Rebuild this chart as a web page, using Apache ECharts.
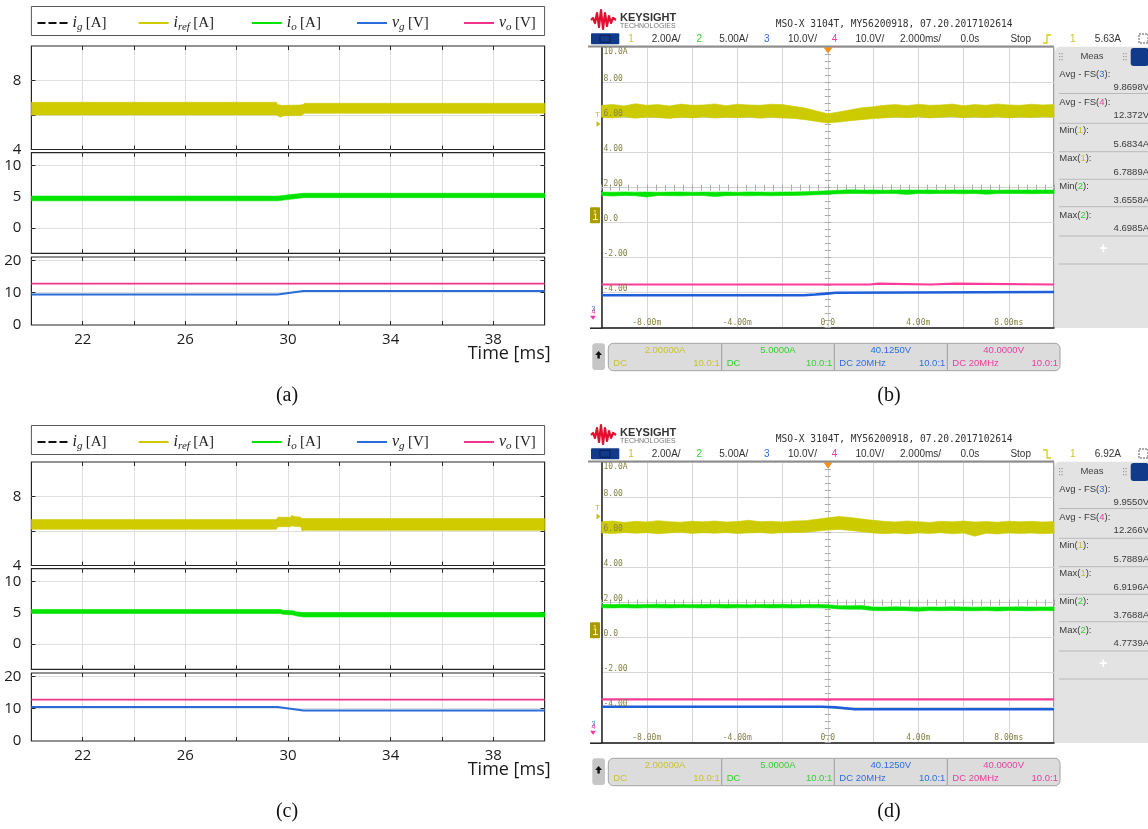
<!DOCTYPE html>
<html>
<head>
<meta charset="utf-8">
<script src="https://cdn.jsdelivr.net/npm/echarts@6.0.0/dist/echarts.min.js"></script>
<style>
html, body { margin: 0; padding: 0; background: #ffffff; }
#chart { width: 1148px; height: 829px; }
</style>
</head>
<body>
<div id="chart"></div>
<script>
// ===================== Simulation panels (a), (c) — time in ms =====================
const simTimeTicks  = [22, 24, 26, 28, 30, 32, 34, 36, 38];
const simTimeLabels = [22, 26, 30, 34, 38];
const irefTicks = [6, 8];      const irefLabels = [4, 8];
const ioTicks   = [0, 5, 10];  const ioLabels   = [0, 5, 10];
const voltTicks = [10, 20];    const voltLabels = [0, 10, 20];

// (a) step up of the input voltage
const aIrefT  = [20, 29.55, 29.6, 29.7, 29.75, 29.85, 30.5, 30.6, 30.65, 40];
const aIrefHi = [6.74, 6.74, 6.60, 6.58, 6.55, 6.56, 6.58, 6.62, 6.68, 6.68];
const aIrefLo = [6.00, 6.00, 5.95, 5.87, 5.92, 5.96, 5.97, 6.05, 6.10, 6.10];
const aIoT    = [20, 29.6, 29.9, 30.0, 30.5, 30.6, 40];
const aIoHi   = [5.10, 5.10, 5.25, 5.30, 5.50, 5.55, 5.55];
const aIoLo   = [4.35, 4.35, 4.50, 4.55, 4.80, 4.85, 4.85];
const aVgT    = [20, 29.6, 30.6, 40];
const aVg     = [9.45, 9.45, 10.5, 10.5];
const aVoT    = [20, 40];
const aVo     = [12.8, 12.8];

// (c) step down of the input voltage
const cIrefT  = [20, 29.55, 29.6, 30.1, 30.15, 30.25, 30.5, 30.55, 30.65, 40];
const cIrefHi = [6.66, 6.66, 6.80, 6.80, 6.91, 6.84, 6.80, 6.72, 6.72, 6.72];
const cIrefLo = [6.10, 6.10, 6.25, 6.25, 6.30, 6.26, 6.25, 6.00, 6.04, 6.04];
const cIoT    = [20, 29.7, 29.8, 30.2, 30.3, 30.6, 40];
const cIoHi   = [5.52, 5.52, 5.40, 5.30, 5.15, 5.03, 5.03];
const cIoLo   = [4.87, 4.87, 4.75, 4.65, 4.50, 4.32, 4.32];
const cVgT    = [20, 29.6, 30.6, 40];
const cVg     = [10.5, 10.5, 9.45, 9.45];
const cVoT    = [20, 40];
const cVo     = [12.8, 12.8];

// ===================== Oscilloscope panels (b), (d) — time in ms =====================
const scopeT = [-10, -9.5, -9, -8.5, -8, -7.5, -7, -6.5, -6, -5.5, -5, -4.5, -4, -3.5, -3, -2.5, -2, -1.5, -1, -0.5,
                0, 0.5, 1, 1.5, 2, 2.5, 3, 3.5, 4, 4.5, 5, 5.5, 6, 6.5, 7, 7.5, 8, 8.5, 9, 9.5, 10];
const scopeTimeLabels = [-8, -4, 0, 4, 8];
const chanScale  = ['2.00A/', '5.00A/', '10.0V/', '10.0V/'];
const chanPerDiv = [2, 5, 10, 10];
const chanOffset = [2, 5, 40.125, 40];
const chanOffsetText = ['2.00000A', '5.0000A', '40.1250V', '40.0000V'];
const chanCoupling = ['DC', 'DC', 'DC 20MHz', 'DC 20MHz'];
const chanProbe = ['10.0:1', '10.0:1', '10.0:1', '10.0:1'];

// (b) channel 1 (A)
const bCh1Hi = [6.70, 6.75, 6.66, 6.7889, 6.70, 6.74, 6.66, 6.77, 6.70, 6.72, 6.78, 6.68, 6.76, 6.72, 6.70, 6.76, 6.74, 6.64, 6.54, 6.38,
                6.22, 6.32, 6.44, 6.56, 6.62, 6.70, 6.74, 6.68, 6.76, 6.70, 6.72, 6.77, 6.68, 6.74, 6.70, 6.78, 6.72, 6.70, 6.76, 6.72, 6.75];
const bCh1Lo = [6.02, 5.98, 6.04, 5.96, 6.03, 6.00, 5.95, 6.02, 5.98, 6.04, 5.97, 6.02, 5.99, 6.03, 5.96, 6.01, 5.97, 5.95, 5.88, 5.78,
                5.6834, 5.74, 5.82, 5.88, 5.94, 5.98, 6.03, 5.99, 6.04, 5.98, 6.02, 6.05, 5.99, 6.03, 6.00, 6.04, 5.98, 6.03, 6.00, 6.04, 6.02];
// (b) channel 2 (A)
const bCh2Hi = [4.36, 4.34, 4.38, 4.35, 4.37, 4.33, 4.36, 4.38, 4.34, 4.36, 4.35, 4.37, 4.34, 4.38, 4.36, 4.35, 4.37, 4.38, 4.42, 4.48,
                4.55, 4.62, 4.6985, 4.64, 4.66, 4.63, 4.65, 4.67, 4.64, 4.66, 4.63, 4.65, 4.66, 4.64, 4.65, 4.63, 4.66, 4.64, 4.65, 4.66, 4.64];
const bCh2Lo = [3.86, 3.80, 3.88, 3.84, 3.6558, 3.87, 3.85, 3.82, 3.88, 3.86, 3.72, 3.85, 3.87, 3.83, 3.86, 3.84, 3.87, 3.88, 3.92, 3.98,
                4.05, 4.12, 4.15, 4.16, 4.12, 4.17, 4.14, 4.02, 4.16, 4.13, 4.17, 4.15, 4.12, 4.16, 4.05, 4.14, 4.17, 4.15, 4.13, 4.16, 4.14];
// (b) channels 3 and 4 (V)
const bCh3T = [-10, -1.05, -1.0, -0.55, -0.5, -0.05, 0, 0.35, 0.4, 10];
const bCh3  = [9.41, 9.41, 9.6, 9.6, 9.85, 9.85, 10.1, 10.1, 10.33, 10.33];
const bCh4T = [-10, 1.85, 1.9, 2.25, 2.3, 4.55, 4.6, 5.6, 5.65, 10];
const bCh4  = [12.34, 12.34, 12.6, 12.6, 12.34, 12.34, 12.6, 12.6, 12.34, 12.34];
const bAvg  = ['9.8698V', '12.372V'];
const bTrig = 5.63;

// (d) channel 1 (A)
const dCh1Hi = [6.62, 6.66, 6.58, 6.64, 6.60, 6.68, 6.62, 6.59, 6.65, 6.61, 6.66, 6.60, 6.63, 6.70, 6.62, 6.64, 6.60, 6.66, 6.68, 6.76,
                6.84, 6.9196, 6.86, 6.78, 6.70, 6.64, 6.60, 6.66, 6.62, 6.58, 6.64, 6.61, 6.66, 6.60, 6.63, 6.59, 6.65, 6.61, 6.64, 6.60, 6.63];
const dCh1Lo = [5.98, 5.94, 6.00, 5.96, 5.99, 5.93, 5.98, 6.01, 5.95, 5.99, 5.96, 6.00, 5.94, 5.98, 6.00, 5.95, 5.99, 6.00, 6.02, 6.08,
                6.14, 6.18, 6.12, 6.05, 5.98, 5.93, 5.97, 5.92, 5.98, 5.95, 5.99, 5.93, 5.97, 5.7889, 5.96, 5.92, 5.98, 5.94, 5.97, 5.93, 5.96];
// (d) channel 2 (A)
const dCh2Hi = [4.74, 4.72, 4.75, 4.71, 4.73, 4.7739, 4.72, 4.74, 4.71, 4.73, 4.75, 4.72, 4.74, 4.70, 4.73, 4.72, 4.75, 4.71, 4.73, 4.72,
                4.70, 4.56, 4.55, 4.57, 4.38, 4.36, 4.39, 4.37, 4.35, 4.38, 4.36, 4.39, 4.37, 4.35, 4.38, 4.36, 4.37, 4.39, 4.36, 4.38, 4.37];
const dCh2Lo = [4.26, 4.24, 4.28, 4.22, 4.27, 4.25, 4.23, 4.28, 4.26, 4.24, 4.27, 4.22, 4.26, 4.25, 4.28, 4.24, 4.26, 4.23, 4.27, 4.25,
                4.22, 4.08, 4.06, 4.05, 3.86, 3.84, 3.88, 3.85, 3.7688, 3.86, 3.84, 3.87, 3.85, 3.83, 3.86, 3.80, 3.87, 3.85, 3.84, 3.86, 3.85];
// (d) channels 3 and 4 (V)
const dCh3T = [-10, -0.25, -0.2, 0.35, 0.4, 1.2, 1.22, 1.24, 2.6, 2.62, 2.64, 3.7, 3.72, 3.74, 6.8, 6.82, 6.84, 10];
const dCh3  = [10.41, 10.41, 10.22, 10.22, 9.66, 9.66, 9.42, 9.66, 9.66, 9.42, 9.66, 9.66, 9.44, 9.66, 9.66, 9.45, 9.66, 9.66];
const dCh4T = [-10, 10];
const dCh4  = [12.35, 12.35];
const dAvg  = ['9.9550V', '12.266V'];
const dTrig = 6.92;

// ===================== styling =====================
const SIM_Y = '#d0ca00', SIM_G = '#00e400', SIM_B = '#2a6cd8', SIM_P = '#f0348c';
const SC_Y = '#cccb00', SC_G = '#00e400', SC_B = '#1d5fd8', SC_P = '#ff3a98';
const TX_Y = '#c9c230', TX_G = '#35d035', TX_B = '#2f6ee0', TX_P = '#ea3ea0';
const SIM_BORDER = '#262626', SIM_GRIDLINE = '#dfdfdf';
const SCOPE_GRIDLINE = '#d6d6d6', SCOPE_LABEL = '#858242';
const SANS = 'Open Sans', SERIF = 'Liberation Serif', SCOPE_FONT = 'Liberation Sans', MONO = 'DejaVu Sans Mono';

const grids = [], xAxis = [], yAxis = [], series = [], legend = [], graphic = [];

function range(a, b, step) { const out = []; for (let v = a; v <= b + 1e-9; v += step) out.push(+v.toFixed(4)); return out; }

// ripple envelope: filled polygon between the lower and upper edge, placed through the axes' scales
function addBand(name, xi, yi, t, lo, hi, color) {
  series.push({ type: 'custom', name, xAxisIndex: xi, yAxisIndex: yi, silent: true, z: 3, clip: true,
    data: t.map((x, i) => [x, lo[i], hi[i]]),
    encode: { x: 0, y: [1, 2] },
    itemStyle: { color },
    renderItem: (params, api) => {
      if (params.dataIndex !== 0) return null;
      const upper = t.map((x, i) => api.coord([x, hi[i]]));
      const lower = t.map((x, i) => api.coord([x, lo[i]])).reverse();
      return { type: 'polygon', shape: { points: upper.concat(lower) }, style: { fill: color, stroke: color, lineWidth: 0.6 } };
    } });
}
function addTrace(name, xi, yi, t, v, color, width) {
  series.push({ type: 'line', name, xAxisIndex: xi, yAxisIndex: yi, symbol: 'none',
    data: t.map((x, i) => [x, v[i]]), lineStyle: { color, width }, itemStyle: { color }, silent: true, z: 4 });
}
function text(x, y, str, o) {
  graphic.push({ type: 'text', x, y, z: 50, silent: true, style: Object.assign({ text: str, fontSize: 10, fontFamily: SCOPE_FONT,
    fill: '#333', align: 'left', verticalAlign: 'middle', textAlign: 'left', textVerticalAlign: 'middle' }, o || {}) });
}
function rect(x, y, w, h, st, r) { graphic.push({ type: 'rect', z: 49, silent: true, shape: { x, y, width: w, height: h, r: r || 0 }, style: st }); }
function line(x1, y1, x2, y2, stroke, w) { graphic.push({ type: 'line', z: 51, silent: true, shape: { x1, y1, x2, y2 }, style: { stroke, lineWidth: w || 1 } }); }

// ---------- simulation panel ----------
function simAxes(gi, yMin, yMax, yTicks, yLabels, withTime) {
  const tickStyle = { color: SIM_BORDER, width: 1 };
  const xi = xAxis.push({ gridIndex: gi, type: 'value', min: 20, max: 40, position: 'bottom',
    axisLine: { show: false, onZero: false },
    axisTick: { show: true, inside: true, length: 4, customValues: simTimeTicks, lineStyle: tickStyle },
    splitLine: { show: true, lineStyle: { color: SIM_GRIDLINE, width: 1 } },
    axisLabel: withTime ? { show: true, customValues: simTimeLabels, margin: 7, fontSize: 15, fontFamily: SANS, color: '#1a1a1a' } : { show: false },
    name: withTime ? 'Time [ms]' : '', nameLocation: 'end', nameGap: 6, nameMoveOverlap: false,
    nameTextStyle: { fontSize: 18, fontFamily: SANS, color: '#1a1a1a', align: 'right', verticalAlign: 'top', padding: [20, 0, 0, 0] }
  }) - 1;
  xAxis.push({ gridIndex: gi, type: 'value', min: 20, max: 40, position: 'top', axisLine: { show: false, onZero: false },
    axisTick: { show: true, inside: true, length: 4, customValues: simTimeTicks, lineStyle: tickStyle },
    splitLine: { show: false }, axisLabel: { show: false } });
  const yi = yAxis.push({ gridIndex: gi, type: 'value', min: yMin, max: yMax, position: 'left', axisLine: { show: false, onZero: false },
    axisTick: { show: true, inside: true, length: 4, customValues: yTicks, lineStyle: tickStyle },
    splitLine: { show: true, lineStyle: { color: SIM_GRIDLINE, width: 1 } },
    axisLabel: { show: true, customValues: yLabels, margin: 10, fontSize: 15, fontFamily: SANS, color: '#1a1a1a' } }) - 1;
  yAxis.push({ gridIndex: gi, type: 'value', min: yMin, max: yMax, position: 'right', axisLine: { show: false, onZero: false },
    axisTick: { show: true, inside: true, length: 4, customValues: yTicks, lineStyle: tickStyle },
    splitLine: { show: false }, axisLabel: { show: false } });
  return { x: xi, y: yi };
}
function simGrid(top, height) {
  return grids.push({ left: 31.4, width: 513.2, top, height, show: true, borderColor: SIM_BORDER, borderWidth: 1.2,
    backgroundColor: 'transparent', containLabel: false, outerBoundsMode: 'none' }) - 1;
}
const legendItems = [
  { name: 'i_g',   x: 37.5,  m: 'i', s: 'g',   u: '[A]', color: '#111', dashed: true },
  { name: 'i_ref', x: 138.6, m: 'i', s: 'ref', u: '[A]', color: SIM_Y },
  { name: 'i_o',   x: 251.8, m: 'i', s: 'o',   u: '[A]', color: SIM_G },
  { name: 'v_g',   x: 357,   m: 'v', s: 'g',   u: '[V]', color: SIM_B },
  { name: 'v_o',   x: 464,   m: 'v', s: 'o',   u: '[V]', color: SIM_P }
];
function simPanel(dy, boxTop, capY, cap, d) {
  const a1 = simAxes(simGrid(46 + dy, 103.5), 4, 10, irefTicks, irefLabels, false);
  const a2 = simAxes(simGrid(152.7 + dy, 100.6), -4, 12, ioTicks, ioLabels, false);
  const a3 = simAxes(simGrid(257 + dy, 68), 0, 21, voltTicks, voltLabels, true);
  series.push({ type: 'line', name: 'i_g', xAxisIndex: a1.x, yAxisIndex: a1.y, data: [], symbol: 'none',
    lineStyle: { color: '#111', type: 'dashed', width: 1.2 } });
  addBand('i_ref', a1.x, a1.y, d.irefT, d.irefLo, d.irefHi, SIM_Y);
  addBand('i_o', a2.x, a2.y, d.ioT, d.ioLo, d.ioHi, SIM_G);
  addTrace('v_o', a3.x, a3.y, d.voT, d.vo, SIM_P, 1.7);
  addTrace('v_g', a3.x, a3.y, d.vgT, d.vg, SIM_B, 2);
  rect(31.4, boxTop, 513.2, 29, { fill: 'none', stroke: '#555', lineWidth: 1 });
  legendItems.forEach(it => {
    legend.push({ show: true, left: it.x, top: boxTop + 8.5, padding: 0, itemGap: 0, itemWidth: 30, itemHeight: 2,
      symbolKeepAspect: false, selectedMode: false,
      data: [{ name: it.name, icon: it.dashed ? 'path://M0 0h8v2h-8z M11 0h8v2h-8z M22 0h8v2h-8z' : 'rect', itemStyle: { color: it.color } }],
      formatter: () => '{m|' + it.m + '}{s|' + it.s + '} {u|' + it.u + '}',
      textStyle: { color: '#222', rich: {
        m: { fontFamily: SERIF, fontStyle: 'italic', fontSize: 16, lineHeight: 20, color: '#222' },
        s: { fontFamily: SERIF, fontStyle: 'italic', fontSize: 11, lineHeight: 12, verticalAlign: 'bottom', color: '#222' },
        u: { fontFamily: SERIF, fontSize: 15, lineHeight: 20, color: '#222' } } } });
  });
  text(287, capY, cap, { fontFamily: SERIF, fontSize: 20, fill: '#111', align: 'center', textAlign: 'center' });
}

// ---------- oscilloscope panel ----------
function fmtTime(v) { return v === 0 ? '0.0' : v.toFixed(2) + (v === 8 ? 'ms' : 'm'); }
function fmtCh1(v) { return v === 10 ? '10.0A' : v === 0 ? '0.0' : v === -6 ? '' : v.toFixed(2); }

function scopePanel(dy, capY, cap, d) {
  const top = 47.5 + dy, left = 601.5, W = 452.5, H = 280.2;
  const gi = grids.push({ left, top, width: W, height: H, show: true, borderColor: '#3a3a3a', borderWidth: 1,
    backgroundColor: '#ffffff', containLabel: false, outerBoundsMode: 'none' }) - 1;
  const xMain = xAxis.push({ gridIndex: gi, type: 'value', min: -10, max: 10, interval: 2, position: 'bottom',
    axisLine: { show: true, onZero: false, lineStyle: { color: '#1e1e1e', width: 1.5 } }, axisTick: { show: false },
    splitLine: { show: true, lineStyle: { color: SCOPE_GRIDLINE, width: 1 } },
    axisLabel: { show: true, inside: true, margin: 1, customValues: scopeTimeLabels, formatter: fmtTime,
      fontFamily: MONO, fontSize: 8, color: SCOPE_LABEL } }) - 1;
  const yCh = chanOffset.map((off, k) => yAxis.push(k === 0 ? {
      gridIndex: gi, type: 'value', min: off - 4 * chanPerDiv[k], max: off + 4 * chanPerDiv[k], interval: chanPerDiv[k], position: 'left',
      axisLine: { show: true, onZero: false, lineStyle: { color: '#1e1e1e', width: 1.5 } }, axisTick: { show: false },
      splitLine: { show: true, lineStyle: { color: SCOPE_GRIDLINE, width: 1 } }, axisLabel: { show: false } }
    : { gridIndex: gi, type: 'value', min: off - 4 * chanPerDiv[k], max: off + 4 * chanPerDiv[k], show: false,
      axisLine: { onZero: false } }) - 1);
  // channel 1 graticule labels, drawn above the traces
  yAxis.push({ gridIndex: gi, type: 'value', min: chanOffset[0] - 4 * chanPerDiv[0], max: chanOffset[0] + 4 * chanPerDiv[0],
    interval: chanPerDiv[0], position: 'left', z: 10,
    axisLine: { show: false, onZero: false }, axisTick: { show: false }, splitLine: { show: false },
    axisLabel: { show: true, inside: true, margin: 2, formatter: fmtCh1, fontFamily: MONO, fontSize: 8, color: SCOPE_LABEL,
      verticalAlign: 'bottom', verticalAlignMaxLabel: 'top', showMinLabel: false } });
  // centre cross-hair with 1/5-division marks
  const yDiv = yAxis.push({ gridIndex: gi, type: 'value', min: -4, max: 4, show: false, axisLine: { onZero: false } }) - 1;
  [true, false].forEach(inside => {
    xAxis.push({ gridIndex: gi, type: 'value', min: -10, max: 10, position: 'bottom',
      axisLine: { show: true, onZero: true, onZeroAxisIndex: yDiv, lineStyle: { color: '#cfcfcf', width: 1 } },
      axisTick: { show: true, inside, length: 3, customValues: range(-10, 10, 0.4), lineStyle: { color: '#a9a9a9' } },
      axisLabel: { show: false }, splitLine: { show: false } });
    yAxis.push({ gridIndex: gi, type: 'value', min: -6, max: 10, position: 'left',
      axisLine: { show: true, onZero: true, onZeroAxisIndex: xMain, lineStyle: { color: '#cfcfcf', width: 1 } },
      axisTick: { show: true, inside, length: 3, customValues: range(-6, 10, 0.4), lineStyle: { color: '#a9a9a9' } },
      axisLabel: { show: false }, splitLine: { show: false } });
  });
  addBand('Ch1', xMain, yCh[0], scopeT, d.ch1Lo, d.ch1Hi, SC_Y);
  addBand('Ch2', xMain, yCh[1], scopeT, d.ch2Lo, d.ch2Hi, SC_G);
  addTrace('Ch4', xMain, yCh[3], d.ch4T, d.ch4, SC_P, 2.2);
  addTrace('Ch3', xMain, yCh[2], d.ch3T, d.ch3, SC_B, 2.6);

  // ---- instrument chrome ----
  // logo
  graphic.push({ type: 'polyline', z: 50, silent: true, shape: { points: [[591, 20 + dy], [593, 18 + dy], [595, 23 + dy], [597, 13 + dy],
    [599, 27 + dy], [601, 10 + dy], [603, 29 + dy], [605, 13 + dy], [607, 26 + dy], [609, 16 + dy], [611, 23 + dy], [613, 18 + dy], [616, 20 + dy]] },
    style: { stroke: '#e2102e', lineWidth: 2.2, fill: null, lineJoin: 'round' } });
  text(620, 17.7 + dy, 'KEYSIGHT', { fontSize: 11, fontWeight: 'bold', fill: '#333' });
  text(620, 26 + dy, 'TECHNOLOGIES', { fontSize: 7, fill: '#777' });
  text(775.7, 24 + dy, 'MSO-X 3104T, MY56200918, 07.20.2017102614', { fontFamily: MONO, fontSize: 9.6, fill: '#333' });
  // toolbar
  rect(591, 33.3 + dy, 28.3, 11, { fill: '#123a8a' }, 1);
  rect(600, 35.3 + dy, 10, 7, { fill: 'none', stroke: '#071f55', lineWidth: 1 });
  const tb = 39.5 + dy;
  const chCol = [TX_Y, TX_G, TX_B, TX_P];
  [631, 699.3, 766.7, 834.5].forEach((x, k) => text(x, tb, String(k + 1), { fill: chCol[k], align: 'center', textAlign: 'center' }));
  [651.7, 719.3, 788, 855.4].forEach((x, k) => text(x, tb, chanScale[k]));
  text(900, tb, '2.000ms/');
  text(960.4, tb, '0.0s');
  text(1010.4, tb, 'Stop');
  graphic.push({ type: 'polyline', z: 50, silent: true, shape: { points: d.rising
      ? [[1043, 43 + dy], [1047, 43 + dy], [1047, 35 + dy], [1051, 35 + dy]]
      : [[1043, 35 + dy], [1047, 35 + dy], [1047, 43 + dy], [1051, 43 + dy]] },
    style: { stroke: '#d8cc10', lineWidth: 1.3, fill: null } });
  text(1072.8, tb, '1', { fill: TX_Y, align: 'center', textAlign: 'center' });
  text(1121, tb, d.trig.toFixed(2) + 'A', { align: 'right', textAlign: 'right' });
  graphic.push({ type: 'rect', z: 50, silent: true, shape: { x: 1139, y: 34 + dy, width: 9, height: 9 },
    style: { fill: 'none', stroke: '#555', lineWidth: 1, lineDash: [2, 1] } });
  line(588, 46.5 + dy, 1054, 46.5 + dy, '#8c8c8c', 2);
  line(590, top + H + 0.5, left, top + H + 0.5, '#1e1e1e', 1.5);
  // trigger position and level markers
  graphic.push({ type: 'polygon', z: 52, silent: true, shape: { points: [[823.5, top], [832.5, top], [828, top + 6]] }, style: { fill: '#f0921e' } });
  const trigY = top + (10 - d.trig) / 16 * H;
  text(597.5, trigY - 9, 'T', { fontSize: 8, fill: '#c8bd20', align: 'center', textAlign: 'center' });
  graphic.push({ type: 'polygon', z: 52, silent: true, shape: { points: [[596.5, trigY - 3], [600.5, trigY], [596.5, trigY + 3]] }, style: { fill: '#c8bd20' } });
  const zeroY = top + 10 / 16 * H;
  rect(590, zeroY - 15.5, 10, 16, { fill: '#a99a00' }, 1);
  text(593, zeroY - 10, '1', { fontSize: 7, fill: '#fff7a8' });
  line(595.5, zeroY - 8, 595.5, zeroY - 3, '#fff7a8', 1);
  line(593, zeroY - 3, 598, zeroY - 3, '#fff7a8', 1);
  text(591.5, top + H - 19, '3', { fontSize: 7, fill: TX_B });
  text(591.5, top + H - 16, '4', { fontSize: 7, fill: TX_P });
  graphic.push({ type: 'polygon', z: 52, silent: true, shape: { points: [[590, top + H - 12], [596, top + H - 12], [593, top + H - 8]] }, style: { fill: TX_P } });

  // measurement side bar
  rect(1055, 46.7 + dy, 95, 281.3, { fill: '#e3e3e3' }, [5, 0, 0, 0]);
  [1059, 1123].forEach(x => { [0, 3, 6].forEach(o => { rect(x, 53 + o + dy, 1.2, 1.2, { fill: '#9a9a9a' }); rect(x + 2.5, 53 + o + dy, 1.2, 1.2, { fill: '#9a9a9a' }); }); });
  text(1092, 56.7 + dy, 'Meas', { fontSize: 9.5, fill: '#444', align: 'center', textAlign: 'center' });
  rect(1130.7, 48 + dy, 18, 18, { fill: '#123a8a' }, 3);
  const meas = [
    { label: 'Avg - FS({c3|3}):', value: d.avg[0] },
    { label: 'Avg - FS({c4|4}):', value: d.avg[1] },
    { label: 'Min({c1|1}):', value: Math.min(...d.ch1Lo).toFixed(4) + 'A' },
    { label: 'Max({c1|1}):', value: Math.max(...d.ch1Hi).toFixed(4) + 'A' },
    { label: 'Min({c2|2}):', value: Math.min(...d.ch2Lo).toFixed(4) + 'A' },
    { label: 'Max({c2|2}):', value: Math.max(...d.ch2Hi).toFixed(4) + 'A' }
  ];
  const labelY = [74.3, 102.3, 130.3, 158.3, 186.5, 215];
  const valueY = [87, 115.5, 144, 172, 200, 228.3];
  meas.forEach((m, i) => {
    text(1059.3, labelY[i] + dy, m.label, { fontSize: 9.5, fill: '#3a3a3a', rich: {
      c1: { fill: TX_Y, fontSize: 9.5, fontFamily: SCOPE_FONT }, c2: { fill: TX_G, fontSize: 9.5, fontFamily: SCOPE_FONT },
      c3: { fill: TX_B, fontSize: 9.5, fontFamily: SCOPE_FONT }, c4: { fill: TX_P, fontSize: 9.5, fontFamily: SCOPE_FONT } } });
    text(1149, valueY[i] + dy, m.value, { fontSize: 9.5, fill: '#3a3a3a', align: 'right', textAlign: 'right' });
  });
  [93.5, 123.3, 151.7, 179.3, 206.7, 236, 264].forEach(y => line(1059, y + dy, 1148, y + dy, '#b9b9b9', 1));
  text(1103.3, 249.3 + dy, '+', { fontSize: 14, fontWeight: 'bold', fill: '#ffffff', align: 'center', textAlign: 'center' });

  // channel bar
  rect(592.3, 343.3 + dy, 12.7, 26.7, { fill: '#c6c6c6' }, 3);
  graphic.push({ type: 'polygon', z: 52, silent: true, shape: { points: [[598.6, 351 + dy], [602, 355 + dy], [599.8, 355 + dy], [599.8, 358.5 + dy],
    [597.4, 358.5 + dy], [597.4, 355 + dy], [595.2, 355 + dy]] }, style: { fill: '#111' } });
  rect(608.3, 343.3 + dy, 451.7, 27.4, { fill: '#dcdcdc', stroke: '#a3a3a3', lineWidth: 1 }, 5);
  const cells = [608.3, 721.7, 834.3, 947.3, 1060];
  [721.7, 834.3, 947.3].forEach(x => line(x, 344 + dy, x, 370 + dy, '#9c9c9c', 1));
  for (let k = 0; k < 4; k++) {
    text((cells[k] + cells[k + 1]) / 2, 350.7 + dy, chanOffsetText[k], { fontSize: 9.5, fill: chCol[k], align: 'center', textAlign: 'center' });
    text(cells[k] + 5, 363.3 + dy, chanCoupling[k], { fontSize: 9.5, fill: chCol[k] });
    text(cells[k + 1] - 2, 363.3 + dy, chanProbe[k], { fontSize: 9.5, fill: chCol[k], align: 'right', textAlign: 'right' });
  }
  text(889, capY, cap, { fontFamily: SERIF, fontSize: 20, fill: '#111', align: 'center', textAlign: 'center' });
}

simPanel(0, 6.5, 396, '(a)', { irefT: aIrefT, irefHi: aIrefHi, irefLo: aIrefLo, ioT: aIoT, ioHi: aIoHi, ioLo: aIoLo, vgT: aVgT, vg: aVg, voT: aVoT, vo: aVo });
simPanel(416, 425.5, 812, '(c)', { irefT: cIrefT, irefHi: cIrefHi, irefLo: cIrefLo, ioT: cIoT, ioHi: cIoHi, ioLo: cIoLo, vgT: cVgT, vg: cVg, voT: cVoT, vo: cVo });
scopePanel(0, 396, '(b)', { ch1Hi: bCh1Hi, ch1Lo: bCh1Lo, ch2Hi: bCh2Hi, ch2Lo: bCh2Lo, ch3T: bCh3T, ch3: bCh3, ch4T: bCh4T, ch4: bCh4, avg: bAvg, trig: bTrig, rising: true });
scopePanel(415, 812, '(d)', { ch1Hi: dCh1Hi, ch1Lo: dCh1Lo, ch2Hi: dCh2Hi, ch2Lo: dCh2Lo, ch3T: dCh3T, ch3: dCh3, ch4T: dCh4T, ch4: dCh4, avg: dAvg, trig: dTrig, rising: false });

const chart = echarts.init(document.getElementById('chart'), null, { renderer: 'canvas' });
chart.setOption({
  backgroundColor: '#ffffff',
  animation: false,
  tooltip: { show: false },
  grid: grids, xAxis, yAxis, series, legend, graphic
});
</script>
</body>
</html>
